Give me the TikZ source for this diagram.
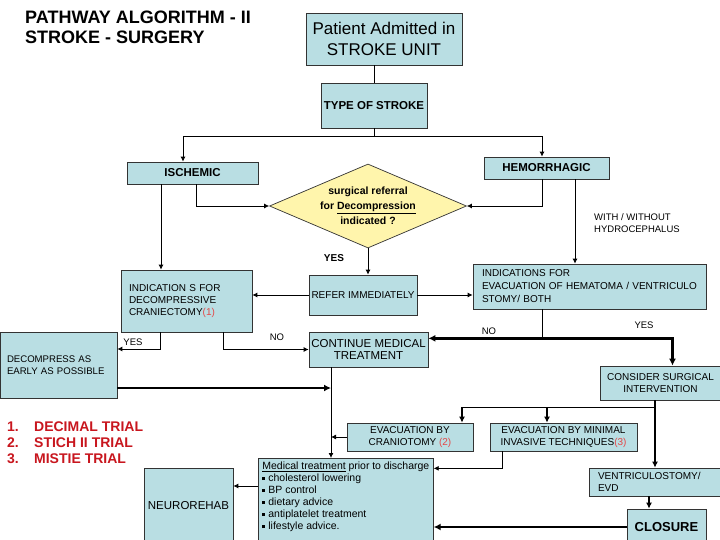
\documentclass[tikz,border=0pt]{standalone}
\usepackage{fontspec}
\setmainfont{Liberation Sans}
\usepackage{tikz}
\usetikzlibrary{
  arrows.meta,
  shapes.geometric,
  positioning,
  calc
}
\definecolor{boxblue}{RGB}{185,222,227}
\definecolor{diayellow}{RGB}{255,245,172}
\definecolor{trialred}{RGB}{200,22,30}
\definecolor{refred}{RGB}{228,72,72}
\newcommand{\refnum}[1]{\textcolor{refred}{#1}}
\newcommand{\sqbullet}{\rule[1.8pt]{3pt}{3pt}\hspace{3pt}}
\tikzset{
  block/.style={
    rectangle, draw=black!80, line width=0.7pt, fill=boxblue,
    inner sep=2pt, align=center, font=\fontsize{10}{12}\selectfont
  },
  leftblock/.style={block, align=left},
  boldblock/.style={block, font=\bfseries\fontsize{11.5}{14}\selectfont},
  decision/.style={
    diamond, draw=black!80, line width=0.7pt, fill=diayellow,
    aspect=2.35, inner sep=0pt, minimum width=197pt, minimum height=84pt,
    align=center, font=\bfseries\fontsize{10.5}{15}\selectfont
  },
  conn/.style={line width=0.8pt},
  arrow/.style={-{Latex[length=5pt,width=5pt]}, line width=0.8pt},
  midarrow/.style={-{Latex[length=6pt,width=6pt]}, line width=1.6pt},
  thickarrow/.style={-{Latex[length=7pt,width=7pt]}, line width=2.4pt},
  lbl/.style={inner sep=0pt, font=\fontsize{9.5}{11.5}\selectfont}
}

\begin{document}
\begin{tikzpicture}[x=1pt, y=-1pt]
\useasboundingbox (0,0) rectangle (720,540);

% Title
\node[anchor=north west, align=left, inner sep=0pt,
      font=\bfseries\fontsize{18}{20}\selectfont] (title) at (25,11)
  {PATHWAY ALGORITHM - II\\STROKE - SURGERY};

% Admission and type
\node[block, minimum width=156pt, minimum height=52pt,
      font=\fontsize{17}{21}\selectfont] (patient) at (384,39)
  {Patient Admitted in\\STROKE UNIT};
\node[block, minimum width=106pt, minimum height=45pt,
      font=\bfseries\fontsize{11.5}{14}\selectfont] (type) at (374,105.5) {TYPE OF STROKE};
\draw[conn] (type.north) -- (type.north |- patient.south);
\coordinate[below=8pt of type] (typesplit);

\node[boldblock, minimum width=131pt, minimum height=22pt] (ischemic) at (192.5,173) {ISCHEMIC};
\node[boldblock, minimum width=125pt, minimum height=22pt] (hemo) at (546.5,168) {HEMORRHAGIC};
\draw[conn] (type.south) -- (typesplit);
\draw[arrow] (typesplit) -| ([xshift=-9.5]ischemic.north);
\draw[arrow] (typesplit) -| ([xshift=-4.5]hemo.north);

% Decision
\node[decision] (decide) at (368,206)
  {surgical referral\\for \underline{Decompression}\\indicated ?};
\draw[arrow] ([xshift=3.5]ischemic.south) |- (decide.west);
\draw[arrow] ([xshift=-4.5]hemo.south) |- (decide.east);
\node[lbl, anchor=west, align=left] (hydro) at (594,223)
  {WITH / WITHOUT\\HYDROCEPHALUS};

% Second row
\node[leftblock, minimum width=131pt, minimum height=62pt, text width=115pt] (indcran) at (186.5,301)
  {INDICATION S FOR\\DECOMPRESSIVE\\CRANIECTOMY\refnum{(1)}};
\node[block, minimum width=108pt, minimum height=40pt] (refer) at (363,295) {REFER IMMEDIATELY};
\node[leftblock, minimum width=233pt, minimum height=45pt, text width=215pt,
      font=\fontsize{10}{13}\selectfont] (evac) at (589.5,286.5)
  {INDICATIONS FOR\\EVACUATION OF HEMATOMA / VENTRICULO\\STOMY/ BOTH};
\draw[arrow] ([xshift=-31.5]ischemic.south) -- ([xshift=-31.5]ischemic.south |- indcran.north);
\draw[arrow] ([xshift=28.5]hemo.south) -- ([xshift=28.5]hemo.south |- evac.north);
\draw[arrow] (decide.south) -- (decide.south |- refer.north);
\node[lbl, font=\bfseries\fontsize{10}{12}\selectfont] (yesdec) at (334,258) {YES};
\draw[arrow] (refer.west) -- (refer.west -| indcran.east);
\draw[arrow] (refer.east) -- (refer.east -| evac.west);

% Third row
\node[leftblock, minimum width=117pt, minimum height=66pt, text width=103pt,
      font=\fontsize{9.6}{11.5}\selectfont] (decomp) at (58.5,365)
  {DECOMPRESS AS\\EARLY AS POSSIBLE};
\node[block, minimum width=119pt, minimum height=35pt,
      font=\fontsize{11.5}{12.5}\selectfont] (continue) at (368.5,349.5)
  {CONTINUE MEDICAL\\TREATMENT};
\node[block, minimum width=120pt, minimum height=34pt] (consider) at (660.5,383)
  {CONSIDER SURGICAL\\INTERVENTION};
\draw[arrow] ([xshift=-26.5]indcran.south) |- ([yshift=16]decomp.east);
\draw[arrow] ([xshift=36.5]indcran.south) |- (continue.west);
\node[lbl] (yescran) at (133,342) {YES};
\node[lbl] (nocran) at (277,337) {NO};
\coordinate (evsplit) at ([xshift=-47.5,yshift=-29]evac.south);
\draw[conn] ([xshift=-47.5]evac.south) -- (evsplit);
\draw[thickarrow] (evsplit) -- (evsplit -| continue.east);
\draw[thickarrow] (evsplit) -| ([xshift=12]consider.north);
\node[lbl] (noevac) at (489,331) {NO};
\node[lbl] (yesevac) at (644,325) {YES};

% Trials
\node[anchor=north west, align=left, inner sep=0pt, text=trialred,
      font=\bfseries\fontsize{14}{16}\selectfont] (trials) at (7,422)
  {\makebox[27pt][l]{1.}DECIMAL TRIAL\\
   \makebox[27pt][l]{2.}STICH II TRIAL\\
   \makebox[27pt][l]{3.}MISTIE TRIAL};

% Surgical options
\node[block, minimum width=126pt, minimum height=28pt] (cranio) at (410,437)
  {EVACUATION BY\\CRANIOTOMY \refnum{(2)}};
\node[block, minimum width=147pt, minimum height=28pt] (minimal) at (563.5,437)
  {EVACUATION BY MINIMAL\\INVASIVE TECHNIQUES\refnum{(3)}};
\node[leftblock, minimum width=131pt, minimum height=28pt, text width=113pt] (ventric) at (654.5,482)
  {VENTRICULOSTOMY/\\EVD};
\node[block, minimum width=79pt, minimum height=36pt,
      font=\bfseries\fontsize{13}{15}\selectfont] (closure) at (666.5,527) {CLOSURE};
\coordinate (surgsplit) at ([xshift=-5.5,yshift=-7]consider.south);
\draw[midarrow] ([xshift=-5.5]consider.south) -- (surgsplit |- ventric.north);
\draw[midarrow] (surgsplit) -| ([xshift=-16.5]minimal.north);
\draw[midarrow] (surgsplit) -| ([xshift=52]cranio.north);
\draw[midarrow] ([xshift=-5.5]ventric.south) -- ([xshift=-5.5]ventric.south |- closure.north);

% Discharge
\node[block, anchor=north west, inner xsep=4pt, inner ysep=4pt] (medical) at (258,458)
  {\begin{minipage}[t][86pt][t]{167pt}\raggedright\fontsize{10.5}{12}\selectfont
   \underline{Medical treatment} prior to discharge\\
   \sqbullet cholesterol lowering\\
   \sqbullet BP control\\
   \sqbullet dietary advice\\
   \sqbullet antiplatelet treatment\\
   \sqbullet lifestyle advice.
   \end{minipage}};
\node[block, minimum width=89pt, minimum height=76pt,
      font=\fontsize{11.5}{13}\selectfont] (neuro) at (188.5,506) {NEUROREHAB};

\coordinate (contfoot) at ([xshift=-37.5]continue.south);
\draw[arrow] (contfoot) -- (contfoot |- medical.north);
\draw[thickarrow] ([yshift=-23]decomp.east) -- ([yshift=-23]decomp.east -| contfoot);
\draw[arrow] (cranio.west) -- (cranio.west -| contfoot);
\coordinate (minfoot) at ([xshift=-61.5,yshift=-17]minimal.south);
\draw[arrow] ([xshift=-61.5]minimal.south) -- (minfoot) -- (minfoot -| medical.east);
\draw[thickarrow] (closure.west) -- (closure.west -| medical.east);
\coordinate (medleft) at ([yshift=-28]medical.north west);
\draw[arrow] (medleft) -- (medleft -| neuro.east);

\end{tikzpicture}
\end{document}
